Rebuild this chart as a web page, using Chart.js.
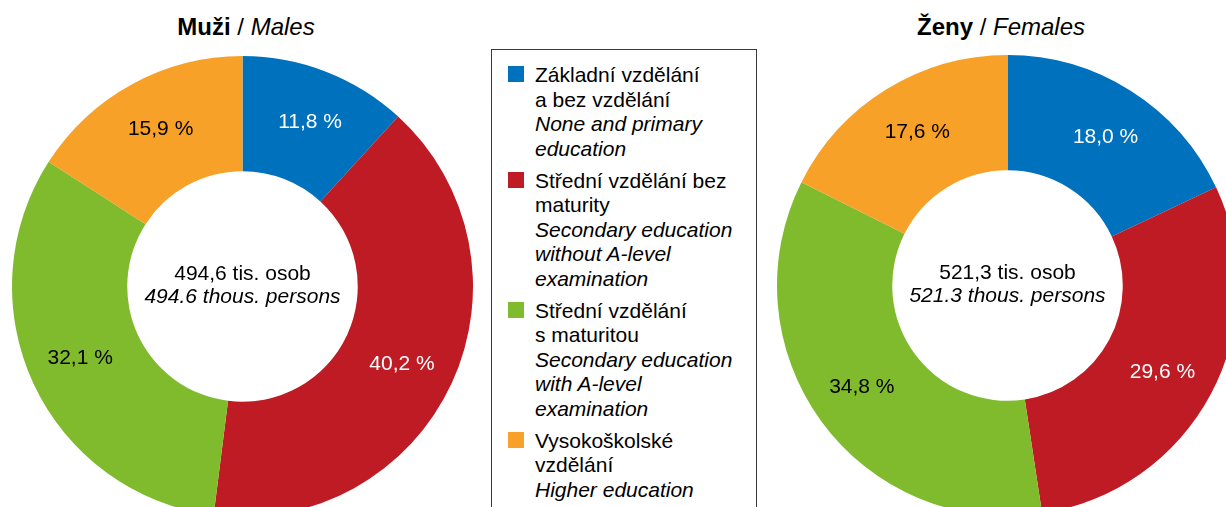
<!DOCTYPE html>
<html>
<head>
<meta charset="utf-8">
<script src="https://cdn.jsdelivr.net/npm/chart.js@4.4.1/dist/chart.umd.min.js"></script>
<style>
  html, body { margin: 0; padding: 0; overflow: hidden; background: #fff; }
  body { position: relative; width: 1226px; height: 507px; font-family: "Liberation Sans", Arial, sans-serif; color: #000; }
  .title { position: absolute; top: 13px; width: 300px; text-align: center; font-size: 24px; line-height: 28px; white-space: nowrap; }
  .title b { font-weight: bold; }
  .title i { font-style: italic; }
  .pie { position: absolute; width: 461px; height: 461px; }
  #legend { position: absolute; left: 491px; top: 49px; width: 266px; height: 480px; border: 1px solid #3a3a3a; box-sizing: border-box; padding: 13px 0 0 16px; }
  .item { position: relative; padding-left: 27px; font-size: 21px; line-height: 24.5px; margin-bottom: 7.5px; white-space: nowrap; }
  .item .sw { position: absolute; left: 0; top: 3px; width: 16px; height: 16px; }
  .item i { font-style: italic; }
</style>
</head>
<body>
<div class="title" style="left:96px"><b>Muži</b> / <i>Males</i></div>
<div class="title" style="left:851px"><b>Ženy</b> / <i>Females</i></div>
<div class="pie" style="left:12px; top:56px"><canvas id="chart-males"></canvas></div>
<div class="pie" style="left:777px; top:55px"><canvas id="chart-females"></canvas></div>
<div id="legend"></div>
<script>
const labelsCz = [
  ["Základní vzdělání", "a bez vzdělání"],
  ["Střední vzdělání bez", "maturity"],
  ["Střední vzdělání", "s maturitou"],
  ["Vysokoškolské", "vzdělání"],
];
const labelsEn = [
  ["None and primary", "education"],
  ["Secondary education", "without A-level", "examination"],
  ["Secondary education", "with A-level", "examination"],
  ["Higher education"],
];
const malesShare = [11.8, 40.2, 32.1, 15.9];
const femalesShare = [18.0, 29.6, 34.8, 17.6];
const malesTotal = 494.6;
const femalesTotal = 521.3;

const COLORS = ["#0071bc", "#be1b24", "#7fbb2d", "#f7a128"];
const LABEL_COLORS = ["#fff", "#fff", "#000", "#000"];
const FONT = '"Liberation Sans", Arial, sans-serif';

function pct(v) {
  return v.toFixed(1).replace(".", ",") + " %";
}

// legend built from the same label arrays
const legend = document.getElementById("legend");
legend.innerHTML = labelsCz
  .map((cz, i) => {
    const lines = cz.join("<br>") + "<br><i>" + labelsEn[i].join("<br>") + "</i>";
    return `<div class="item"><span class="sw" style="background:${COLORS[i]}"></span>${lines}</div>`;
  })
  .join("");

// slice labels + centre text
const donutText = {
  id: "donutText",
  afterDatasetsDraw(chart, args, opts) {
    const ctx = chart.ctx;
    const meta = chart.getDatasetMeta(0);
    const values = chart.data.datasets[0].data;
    ctx.save();
    ctx.textAlign = "center";
    ctx.textBaseline = "middle";
    ctx.font = `21px ${FONT}`;
    let cx = 0, cy = 0;
    meta.data.forEach((arc, i) => {
      const p = arc.getProps(["x", "y", "startAngle", "endAngle", "outerRadius"], true);
      cx = p.x; cy = p.y;
      const mid = (p.startAngle + p.endAngle) / 2 + 0.02;
      const r = p.outerRadius * 0.77;
      ctx.fillStyle = LABEL_COLORS[i];
      ctx.fillText(pct(values[i]), p.x + Math.cos(mid) * r, p.y + Math.sin(mid) * r);
    });
    ctx.fillStyle = "#000";
    ctx.textBaseline = "alphabetic";
    ctx.fillText(opts.total.toFixed(1).replace(".", ",") + " tis. osob", cx, cy - 7);
    ctx.font = `italic 21px ${FONT}`;
    ctx.fillText(opts.total.toFixed(1) + " thous. persons", cx, cy + 16);
    ctx.restore();
  },
};

function makeDonut(id, values, total) {
  return new Chart(document.getElementById(id), {
    type: "doughnut",
    data: {
      labels: labelsCz.map((l) => l.join(" ")),
      datasets: [{ data: values, backgroundColor: COLORS, borderWidth: 0 }],
    },
    options: {
      responsive: true,
      maintainAspectRatio: false,
      animation: false,
      cutout: "50%",
      layout: { padding: 0 },
      plugins: {
        legend: { display: false },
        tooltip: { enabled: false },
        donutText: { total },
      },
    },
    plugins: [donutText],
  });
}

makeDonut("chart-males", malesShare, malesTotal);
makeDonut("chart-females", femalesShare, femalesTotal);
</script>
</body>
</html>
